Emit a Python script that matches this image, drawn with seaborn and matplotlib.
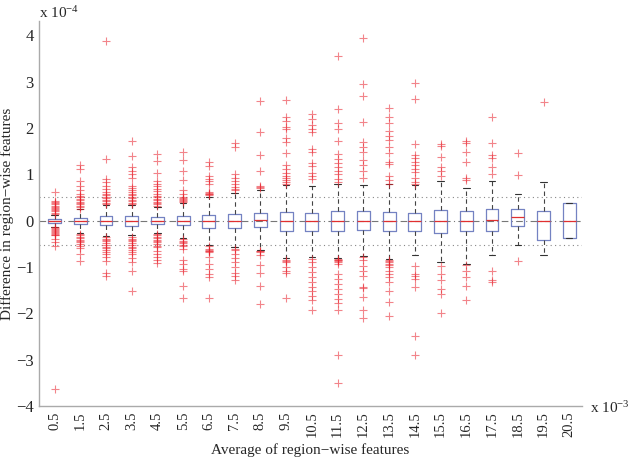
import numpy as np
import pandas as pd
import matplotlib
matplotlib.use("Agg")
import matplotlib.pyplot as plt
import seaborn as sns

# ---------------- data (units: 1e-4 on y, category labels in 1e-3) ----------------
categories = ["0.5", "1.5", "2.5", "3.5", "4.5", "5.5", "6.5", "7.5", "8.5", "9.5", "10.5",
              "11.5", "12.5", "13.5", "14.5", "15.5", "16.5", "17.5", "18.5", "19.5", "20.5"]

whisker_low = [-0.13, -0.27, -0.33, -0.30, -0.27, -0.37, -0.52, -0.58, -0.63, -0.80, -0.78,
               -0.80, -0.76, -0.83, -0.75, -0.90, -0.93, -0.74, -0.52, -0.74, -0.37]
q1 = [-0.05, -0.07, -0.09, -0.11, -0.08, -0.10, -0.16, -0.16, -0.14, -0.22, -0.23,
      -0.22, -0.21, -0.23, -0.23, -0.26, -0.23, -0.23, -0.11, -0.42, -0.37]
median = [0.0, 0.0, 0.0, 0.0, 0.0, 0.0, 0.0, 0.0, 0.02, 0.0, 0.0,
          0.0, 0.0, 0.0, 0.0, 0.0, 0.0, 0.01, 0.07, 0.0, 0.0]
q3 = [0.03, 0.06, 0.09, 0.09, 0.08, 0.09, 0.13, 0.15, 0.16, 0.19, 0.16,
      0.21, 0.20, 0.19, 0.17, 0.22, 0.20, 0.25, 0.25, 0.20, 0.37]
whisker_high = [0.13, 0.24, 0.33, 0.34, 0.30, 0.37, 0.50, 0.59, 0.65, 0.77, 0.75,
                0.78, 0.77, 0.78, 0.77, 0.86, 0.70, 0.86, 0.57, 0.83, 0.37]

outliers = {
    "0.5": [0.14, 0.17, 0.2, 0.22, 0.25, 0.27, 0.3, 0.32, 0.35, 0.38, 0.4, 0.43, 0.62,
            -0.14, -0.16, -0.18, -0.2, -0.22, -0.24, -0.26, -0.28, -0.3, -0.32, -0.4, -0.47, -0.54, -3.63],
    "1.5": [0.26, 0.29, 0.32, 0.35, 0.38, 0.41, 0.44, 0.47, 0.5, 0.53, 0.57, 0.66, 0.75, 0.86, 1.11, 1.19,
            -0.29, -0.32, -0.35, -0.38, -0.41, -0.44, -0.47, -0.5, -0.54, -0.59, -0.72, -0.88],
    "2.5": [0.36, 0.39, 0.42, 0.45, 0.48, 0.51, 0.55, 0.58, 0.61, 0.68, 0.75, 0.83, 0.9, 1.33, 3.88,
            -0.36, -0.39, -0.42, -0.45, -0.48, -0.52, -0.56, -0.6, -0.64, -0.68, -0.72, -0.79, -0.88, -1.13, -1.19],
    "3.5": [0.36, 0.39, 0.42, 0.45, 0.48, 0.52, 0.55, 0.58, 0.62, 0.66, 0.7, 0.75, 0.93, 1.01, 1.08, 1.16, 1.4, 1.71,
            -0.36, -0.39, -0.42, -0.45, -0.48, -0.52, -0.56, -0.6, -0.64, -0.68, -0.72, -0.8, -0.9, -1.08, -1.52],
    "4.5": [0.32, 0.35, 0.38, 0.41, 0.44, 0.47, 0.5, 0.54, 0.58, 0.63, 0.68, 0.74, 0.8, 0.86, 1.02, 1.29, 1.44,
            -0.29, -0.32, -0.35, -0.38, -0.41, -0.44, -0.47, -0.5, -0.54, -0.57, -0.65, -0.72, -0.79, -0.86, -0.92],
    "5.5": [0.4, 0.42, 0.44, 0.46, 0.48, 0.5, 0.57, 0.65, 0.88, 1.06, 1.31, 1.49,
            -0.4, -0.43, -0.46, -0.49, -0.52, -0.55, -0.61, -0.86, -0.93, -1.04, -1.08, -1.4, -1.67],
    "6.5": [0.55, 0.57, 0.58, 0.59, 0.61, 0.79, 0.85, 0.9, 0.97, 1.17, 1.26,
            -0.54, -0.62, -0.64, -0.65, -0.66, -0.68, -0.79, -0.93, -1.04, -1.15, -1.22, -1.67],
    "7.5": [0.65, 0.68, 0.72, 0.79, 0.86, 0.93, 1.01, 1.59, 1.67,
            -0.61, -0.63, -0.72, -0.8, -0.9, -1.0, -1.13, -1.2, -1.29],
    "8.5": [0.7, 0.72, 0.75, 1.06, 1.42, 1.92, 2.59,
            -0.65, -0.66, -0.67, -0.75, -0.95, -1.13, -1.42, -1.8],
    "9.5": [0.8, 0.84, 0.88, 0.92, 0.97, 1.02, 1.11, 1.2, 1.45, 1.69, 1.78, 1.98, 2.03, 2.14, 2.23, 2.61,
            -0.86, -0.88, -0.9, -1.0, -1.08, -1.13, -1.67],
    "10.5": [0.9, 0.97, 1.02, 1.17, 1.24, 1.47, 1.54, 1.92, 1.98, 2.07, 2.19, 2.3,
             -0.83, -0.9, -1.0, -1.11, -1.22, -1.33, -1.44, -1.52, -1.62, -1.72, -1.93],
    "11.5": [0.83, 0.9, 1.01, 1.08, 1.16, 1.24, 1.33, 1.44, 1.71, 1.98, 2.1, 2.41, 3.56,
             -0.82, -0.84, -0.86, -0.88, -0.9, -0.93, -1.15, -1.26, -1.36, -1.47, -1.58, -1.69, -1.78, -1.93, -2.91, -3.5],
    "12.5": [0.93, 1.06, 1.19, 1.31, 1.49, 1.58, 1.69, 2.12, 2.69, 2.95, 3.93,
             -0.79, -0.86, -0.97, -1.08, -1.19, -1.44, -1.45, -1.65, -1.93, -2.1],
    "13.5": [0.8, 0.88, 0.96, 1.22, 1.26, 1.45, 1.58, 1.74, 1.83, 1.94, 2.1, 2.23, 2.44,
             -0.86, -0.88, -0.9, -0.93, -0.95, -1.0, -1.08, -1.15, -1.22, -1.33, -1.51, -1.76, -2.05],
    "14.5": [0.79, 0.83, 0.93, 1.04, 1.11, 1.19, 1.26, 1.36, 1.42, 1.65, 2.62, 2.96,
             -0.97, -1.15, -1.2, -1.26, -1.44, -2.48, -2.89],
    "15.5": [0.97, 1.08, 1.15, 1.38, 1.62, 1.65,
             -0.99, -1.15, -1.28, -1.47, -1.58, -2.0],
    "16.5": [0.88, 0.93, 1.27, 1.49, 1.67, 1.72,
             -0.96, -1.08, -1.22, -1.4, -1.72],
    "17.5": [1.01, 1.15, 1.35, 1.42, 1.67, 2.23,
             -1.09, -1.28, -1.33],
    "18.5": [0.98, 1.45, -0.88],
    "19.5": [2.55],
    "20.5": [],
}

reference_lines = [0.52, -0.52]
y_ticks = [-4, -3, -2, -1, 0, 1, 2, 3, 4]

# ---------------- build tables ----------------
box_rows = []
for i, c in enumerate(categories):
    for v in (whisker_low[i], q1[i], median[i], q3[i], whisker_high[i]):
        box_rows.append({"cat": c, "val": v})
box_df = pd.DataFrame(box_rows)

out_rows = [{"cat": c, "val": v} for c in categories for v in outliers[c]]
out_df = pd.DataFrame(out_rows)

# ---------------- plot ----------------
sns.set_theme(style="white")
plt.rcParams["font.family"] = ["Liberation Serif", "DejaVu Serif"]
plt.rcParams["mathtext.fontset"] = "custom"
plt.rcParams["mathtext.rm"] = "Liberation Serif"

fig = plt.figure(figsize=(6.3, 4.58), dpi=100)
ax = fig.add_axes([0.062, 0.1135, 0.862, 0.84])

# reference lines
for r in reference_lines:
    ax.axhline(r, color="#888888", linestyle=(0, (1, 3)), linewidth=0.8, zorder=0)
ax.axhline(0, color="#777777", linestyle=(0, (6, 3, 1, 3)), linewidth=0.8, zorder=0)

sns.boxplot(data=box_df, x="cat", y="val", order=categories, whis=(0, 100),
            width=0.5, fill=False, showfliers=False, ax=ax,
            boxprops=dict(color="#7482c2", linewidth=0.9),
            whiskerprops=dict(color="#444444", linestyle=(0, (4, 3)), linewidth=0.8),
            capprops=dict(color="#333333", linewidth=0.8),
            medianprops=dict(color="#e03030", linewidth=0.9))

sns.stripplot(data=out_df, x="cat", y="val", order=categories, jitter=False,
              marker="+", color="#e8202a", size=5.5, linewidth=0.8, alpha=0.55, ax=ax)

ax.set_xlim(-0.6, 20.5)
ax.set_ylim(-4, 4.3)
ax.set_yticks(y_ticks)
ax.set_yticklabels([f"{t}".replace("-", "\u2212") for t in y_ticks], fontsize=12)
ax.set_xticks(range(len(categories)))
ax.set_xticklabels(categories, rotation=90, fontsize=10.5)
ax.tick_params(axis="both", length=0, pad=4)

for s in ("top", "right"):
    ax.spines[s].set_visible(False)
for s in ("left", "bottom"):
    ax.spines[s].set_color("#aaaaaa")
    ax.spines[s].set_linewidth(1.0)

ax.set_xlabel("Average of region\u2212wise features", fontsize=11, labelpad=4)
ax.set_ylabel("Difference in region\u2212wise features", fontsize=11, labelpad=1)

ax.text(0.0, 1.008, r"x $\mathregular{10^{-4}}$", transform=ax.transAxes,
        fontsize=11, ha="left", va="baseline")
ax.text(1.014, -0.005, r"x $\mathregular{10^{-3}}$", transform=ax.transAxes,
        fontsize=11, ha="left", va="center")

fig.savefig("out.png", dpi=100)
